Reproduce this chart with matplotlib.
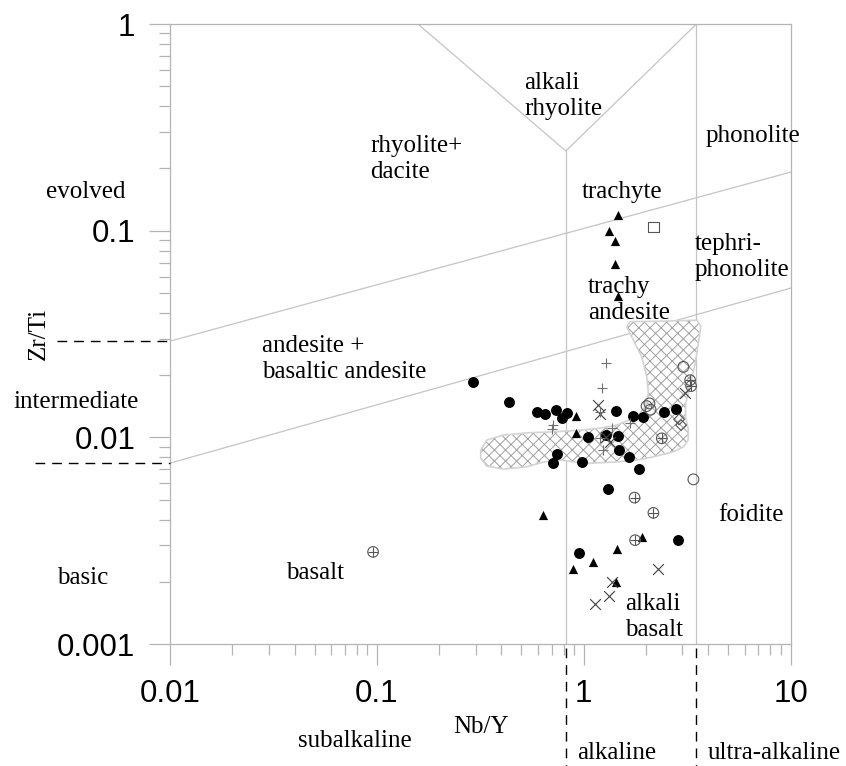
import numpy as np
import matplotlib
matplotlib.use('Agg')
import matplotlib.pyplot as plt
import matplotlib.transforms as mtransforms
from matplotlib.patches import Polygon
from matplotlib.ticker import FixedLocator, NullFormatter, FixedFormatter

# ---------------- data ----------------
circle_x = [0.293, 0.437, 0.597, 0.651, 0.733, 0.829, 0.789, 1.430, 1.724, 1.931, 2.454, 2.782,
            1.047, 1.283, 1.462, 0.741, 0.714, 0.986, 1.488, 1.661, 1.854, 1.312, 0.950, 2.871]
circle_y = [0.01855, 0.01485, 0.01328, 0.01290, 0.01353, 0.01314, 0.01234, 0.01343, 0.01266, 0.01256,
            0.01328, 0.01365, 0.00999, 0.01025, 0.01013, 0.00830, 0.00753, 0.00761, 0.00867, 0.00799,
            0.00701, 0.00564, 0.00275, 0.00318]

tri_x = [0.916, 0.916, 0.634, 1.910, 1.446, 1.114, 0.892, 1.430, 1.462, 1.331, 1.414, 1.423, 1.472]
tri_y = [0.01266, 0.01051, 0.00420, 0.00330, 0.00288, 0.00250, 0.00230, 0.00200,
         0.1196, 0.0993, 0.0889, 0.0693, 0.0483]

oplus_x = [3.270, 3.307, 2.386, 1.762, 2.173, 1.773, 0.0959]
oplus_y = [0.01891, 0.01769, 0.00989, 0.00511, 0.00431, 0.00318, 0.00279]

ocircle_x = [3.034, 3.393, 2.015, 2.079, 2.106]
ocircle_y = [0.02193, 0.00626, 0.01416, 0.01459, 0.01361]

diamond_x = [2.893, 2.958]
diamond_y = [0.01221, 0.01146]

square_x = [2.173]
square_y = [0.1042]

cross_x = [3.092, 1.170, 1.200, 1.342, 1.283, 2.282, 1.367, 1.327, 1.135]
cross_y = [0.01631, 0.01431, 0.01290, 0.00951, 0.01002, 0.00231, 0.00200, 0.00171, 0.00157]

plus_x = [1.283, 1.231, 0.714, 0.701, 1.676, 1.200, 1.367, 1.245, 1.200]
plus_y = [0.02293, 0.01724, 0.01146, 0.01092, 0.01175, 0.00988, 0.01104, 0.00867, 0.01328]

# hatched field outline
field_x = [0.3178, 0.3399, 0.4076, 0.5308, 0.7112, 0.9607, 1.2003, 1.4457, 1.8059, 1.9813,
           2.0556, 2.0190, 1.9099, 1.7393, 1.6158, 1.6761, 2.3409, 3.5352, 3.6840, 3.5868,
           3.4572, 3.2703, 3.1100, 3.1100, 3.2091, 3.1978, 3.0344, 2.7144, 2.1732, 1.8059,
           1.4457, 1.0351, 0.7690, 0.6365, 0.5308, 0.4089, 0.3399, 0.3178]
field_y = [0.008671, 0.009694, 0.01025, 0.01051, 0.01063, 0.01083, 0.01108, 0.01146, 0.01256, 0.01405,
           0.01631, 0.01962, 0.02451, 0.02951, 0.03422, 0.03627, 0.03647, 0.03687, 0.03449, 0.02845,
           0.02278, 0.01755, 0.01459, 0.01256, 0.01083, 0.009694, 0.008996, 0.008509, 0.008048, 0.007758,
           0.007610, 0.007477, 0.007758, 0.007586, 0.007201, 0.007019, 0.007256, 0.007931]

# classification boundaries
upper_line_x = [0.01, 10]
upper_line_y = [0.0292, 0.192]
lower_line_x = [0.01, 10]
lower_line_y = [0.0075, 0.0527]
vee_x = [0.158, 0.82, 3.51]
vee_y = [1.0, 0.243, 1.0]
alk_x = 0.82
alk_top = 0.243
ultra_x = 3.51

xticks_major = [0.01, 0.1, 1, 10]
xtick_labels = ['0.01', '0.1', '1', '10']
yticks_major = [0.001, 0.01, 0.1, 1]
ytick_labels = ['0.001', '0.01', '0.1', '1']

# ---------------- figure ----------------
W, H = 846, 766
fig = plt.figure(figsize=(W / 100, H / 100), dpi=100)
ax = fig.add_axes([170 / W, 1 - 644 / H, 620.5 / W, 620 / H])
ax.set_xscale('log')
ax.set_yscale('log')
ax.set_xlim(0.01, 10)
ax.set_ylim(0.001, 1)

gray = '#b4b4b4'
for s in ax.spines.values():
    s.set_color(gray)
    s.set_linewidth(0.9)

minor = [m * 10.0 ** e for e in range(-3, 1) for m in range(2, 10)]
ax.xaxis.set_major_locator(FixedLocator(xticks_major))
ax.xaxis.set_major_formatter(FixedFormatter(xtick_labels))
ax.xaxis.set_minor_locator(FixedLocator([v for v in minor if 0.01 < v < 10]))
ax.xaxis.set_minor_formatter(NullFormatter())
ax.yaxis.set_major_locator(FixedLocator(yticks_major))
ax.yaxis.set_major_formatter(FixedFormatter(ytick_labels))
ax.yaxis.set_minor_locator(FixedLocator([v for v in minor if 0.001 < v < 1]))
ax.yaxis.set_minor_formatter(NullFormatter())

sans = 'Liberation Sans'
serif = 'Liberation Serif'
ax.tick_params(which='major', direction='out', length=15, width=0.9, color=gray,
               labelsize=22.5, labelfontfamily=sans, labelcolor='black')
ax.tick_params(which='minor', direction='out', length=8, width=0.9, color=gray)
ax.tick_params(axis='x', which='major', pad=10)
ax.tick_params(axis='y', which='major', pad=10)

# boundaries
lc = '#c4c4c4'
ax.plot(upper_line_x, upper_line_y, color=lc, lw=0.9, zorder=1)
ax.plot(lower_line_x, lower_line_y, color=lc, lw=0.9, zorder=1)
ax.plot(vee_x, vee_y, color=lc, lw=0.9, zorder=1)
ax.plot([alk_x, alk_x], [0.001, alk_top], color=lc, lw=0.9, zorder=1)
ax.plot([ultra_x, ultra_x], [0.001, 1], color=lc, lw=0.9, zorder=1)

# dashed boundary extensions outside axes
bx = mtransforms.blended_transform_factory(ax.transData, ax.transAxes)
by = mtransforms.blended_transform_factory(ax.transAxes, ax.transData)
dash = dict(color='black', lw=1.0, dashes=(7, 5), clip_on=False, zorder=5)
ax.plot([alk_x, alk_x], [-0.006, -0.2], transform=bx, **dash)
ax.plot([ultra_x, ultra_x], [-0.006, -0.2], transform=bx, **dash)
ax.plot([-0.182, 0.0], [upper_line_y[0]] * 2, transform=by, **dash)
ax.plot([-0.218, 0.0], [lower_line_y[0]] * 2, transform=by, **dash)

# hatched field
plt.rcParams['hatch.linewidth'] = 0.7
field = Polygon(np.column_stack([field_x, field_y]), closed=True, facecolor='white',
                edgecolor='#a0a0a0', hatch='xxx', lw=0.0, zorder=2)
ax.add_patch(field)
outline = Polygon(np.column_stack([field_x, field_y]), closed=True, facecolor='none',
                  edgecolor='#d4d4d4', lw=1.2, joinstyle='round', zorder=2.1)
ax.add_patch(outline)

# points
mk_gray = '#555555'
ax.scatter(circle_x, circle_y, s=62, marker='o', c='black', zorder=6, linewidths=0)
ax.scatter(tri_x, tri_y, s=44, marker='^', c='black', zorder=6, linewidths=0)
ax.scatter(oplus_x, oplus_y, s=58, marker='o', facecolors='none', edgecolors=mk_gray, linewidths=0.8, zorder=6)
ax.scatter(oplus_x, oplus_y, s=58, marker='+', c=mk_gray, linewidths=0.8, zorder=6)
ax.scatter(ocircle_x, ocircle_y, s=60, marker='o', facecolors='none', edgecolors=mk_gray, linewidths=0.8, zorder=6)
ax.scatter(diamond_x, diamond_y, s=30, marker='D', facecolors='none', edgecolors=mk_gray, linewidths=0.8, zorder=6)
ax.scatter(square_x, square_y, s=55, marker='s', facecolors='none', edgecolors=mk_gray, linewidths=0.8, zorder=6)
ax.scatter(cross_x, cross_y, s=60, marker='x', c='#404040', linewidths=0.8, zorder=6)
ax.scatter(plus_x, plus_y, s=60, marker='+', c='#707070', linewidths=0.8, zorder=6)

# labels (pixel positions converted to figure fraction)
def P(x, y):
    return x / W, 1 - y / H

fs = 18
def lab(x, y, s, ha='left', va='center', **kw):
    fig.text(*P(x, y), s, ha=ha, va=va, fontsize=fs, family=serif, linespacing=1.25, **kw)

lab(524, 96, 'alkali\nrhyolite')
lab(370, 159, 'rhyolite+\ndacite')
lab(706, 136, 'phonolite')
lab(582, 192, 'trachyte')
lab(695, 257, 'tephri-\nphonolite')
lab(588, 300, 'trachy\nandesite')
lab(262, 359, 'andesite +\nbasaltic andesite')
lab(46, 192, 'evolved')
lab(13, 402, 'intermediate')
lab(57, 578, 'basic')
lab(286, 573, 'basalt')
lab(625, 617, 'alkali\nbasalt')
lab(718, 515, 'foidite')
lab(481, 727, 'Nb/Y', ha='center')
lab(39, 334, 'Zr/Ti', ha='center', rotation=90)
lab(355, 741, 'subalkaline', ha='center')
lab(577, 753, 'alkaline')
lab(708, 753, 'ultra-alkaline')

fig.savefig('out.png', dpi=100)
